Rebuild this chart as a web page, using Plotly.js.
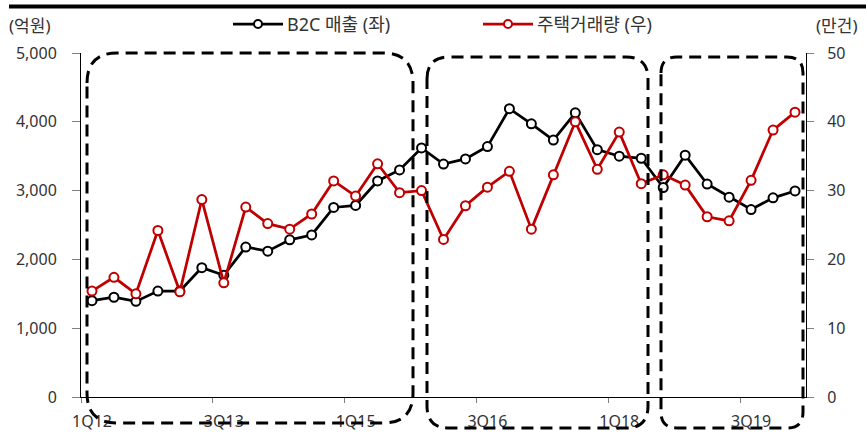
<!DOCTYPE html>
<html>
<head>
<meta charset="utf-8">
<script src="https://cdn.plot.ly/plotly-3.0.1.min.js"></script>
<style>html,body{margin:0;padding:0;background:#fff}#chart{width:866px;height:433px}</style>
</head>
<body>
<div id="chart"></div>
<script>
// ---- data ----
const quarters = [
  '1Q12','2Q12','3Q12','4Q12','1Q13','2Q13','3Q13','4Q13',
  '1Q14','2Q14','3Q14','4Q14','1Q15','2Q15','3Q15','4Q15',
  '1Q16','2Q16','3Q16','4Q16','1Q17','2Q17','3Q17','4Q17',
  '1Q18','2Q18','3Q18','4Q18','1Q19','2Q19','3Q19','4Q19','1Q20'
];
// B2C 매출 (억원, left axis)
const b2cSales = [
  1400, 1450, 1390, 1540, 1540, 1880, 1770, 2180,
  2120, 2285, 2355, 2755, 2785, 3140, 3300, 3620,
  3385, 3460, 3640, 4190, 3970, 3735, 4130, 3595,
  3500, 3470, 3045, 3515, 3095, 2905, 2725, 2895, 2995
];
// 주택거래량 (만건, right axis)
const housingTx = [
  15.4, 17.4, 15.0, 24.2, 15.3, 28.7, 16.6, 27.6,
  25.2, 24.4, 26.6, 31.4, 29.2, 33.9, 29.7, 30.0,
  22.9, 27.8, 30.5, 32.8, 24.4, 32.3, 40.0, 33.1,
  38.5, 31.0, 32.3, 30.8, 26.2, 25.6, 31.5, 38.8, 41.4
];
const seriesNames = ['B2C 매출 (좌)', '주택거래량 (우)'];
const seriesColors = ['#000000', '#C00000'];
const leftUnit = '(억원)';
const rightUnit = '(만건)';

// ---- layout geometry (pixels) ----
const W = 866, H = 433;
const M = {l: 81, r: 60, t: 53, b: 36};
const PW = W - M.l - M.r, PH = H - M.t - M.b;
const px = x => (x - M.l) / PW;
const py = y => (H - M.b - y) / PH;

function roundBox(x0, y0, x1, y1, r) {
  const X = v => px(v).toFixed(5), Y = v => py(v).toFixed(5);
  return 'M' + X(x0) + ',' + Y(y0 + r) +
    ' Q' + X(x0) + ',' + Y(y0) + ' ' + X(x0 + r) + ',' + Y(y0) +
    ' L' + X(x1 - r) + ',' + Y(y0) +
    ' Q' + X(x1) + ',' + Y(y0) + ' ' + X(x1) + ',' + Y(y0 + r) +
    ' L' + X(x1) + ',' + Y(y1 - r) +
    ' Q' + X(x1) + ',' + Y(y1) + ' ' + X(x1 - r) + ',' + Y(y1) +
    ' L' + X(x0 + r) + ',' + Y(y1) +
    ' Q' + X(x0) + ',' + Y(y1) + ' ' + X(x0) + ',' + Y(y1 - r) + ' Z';
}
const boxStyle = {type: 'path', xref: 'paper', yref: 'paper', layer: 'above',
  line: {color: '#000', width: 3, dash: '12px,7px'}, fillcolor: 'rgba(0,0,0,0)'};

const FONT = 'Noto Sans, Noto Sans CJK KR, sans-serif';
const TICKFONT = {family: FONT, size: 16, color: '#333'};
const LABELFONT = {family: FONT, size: 17, color: '#333'};
const LEGENDFONT = {family: FONT, size: 18, color: '#333'};

const traces = [
  {
    x: quarters, y: b2cSales, name: seriesNames[0], type: 'scatter', mode: 'lines+markers',
    yaxis: 'y',
    line: {color: seriesColors[0], width: 2.75},
    marker: {symbol: 'circle', size: 9, color: '#ffffff', line: {color: seriesColors[0], width: 2}}
  },
  {
    x: quarters, y: housingTx, name: seriesNames[1], type: 'scatter', mode: 'lines+markers',
    yaxis: 'y2',
    line: {color: seriesColors[1], width: 2.75},
    marker: {symbol: 'circle', size: 9, color: '#ffffff', line: {color: seriesColors[1], width: 2}}
  }
];

// legend drawn as line + marker shapes with text annotations
const legendItems = [{x: 233, name: seriesNames[0], color: seriesColors[0]},
                     {x: 483, name: seriesNames[1], color: seriesColors[1]}];
const legendY = 24;
const legendShapes = [], legendAnns = [];
legendItems.forEach(it => {
  legendShapes.push({type: 'line', xref: 'paper', yref: 'paper', x0: px(it.x), x1: px(it.x + 50),
    y0: py(legendY), y1: py(legendY), line: {color: it.color, width: 2.75}});
  legendShapes.push({type: 'circle', xref: 'paper', yref: 'paper',
    x0: px(it.x + 25 - 4), x1: px(it.x + 25 + 4), y0: py(legendY - 4), y1: py(legendY + 4),
    fillcolor: '#ffffff', line: {color: it.color, width: 2}});
  legendAnns.push({text: it.name, xref: 'paper', yref: 'paper', x: px(it.x + 52), y: py(legendY),
    xanchor: 'left', yanchor: 'middle', showarrow: false, font: LEGENDFONT});
});

const layout = {
  width: W, height: H,
  margin: M,
  paper_bgcolor: '#fff', plot_bgcolor: '#fff',
  font: {family: FONT, size: 16, color: '#333'},
  showlegend: false,
  xaxis: {
    type: 'category', categoryorder: 'array', categoryarray: quarters,
    range: [-0.5, quarters.length - 0.5],
    tickmode: 'linear', tick0: 0, dtick: 6, tickson: 'boundaries', tickangle: 0,
    ticks: 'outside', ticklen: 5, tickcolor: '#808080', tickwidth: 1,
    ticklabelstandoff: 10,
    showline: true, linecolor: '#000', linewidth: 1,
    showgrid: false, zeroline: false,
    tickfont: TICKFONT
  },
  yaxis: {
    range: [0, 5000], dtick: 1000, tickformat: ',d',
    ticks: 'outside', ticklen: 8, tickcolor: '#808080',
    ticklabelstandoff: 12,
    showline: true, linecolor: '#000', linewidth: 1,
    showgrid: false, zeroline: false,
    tickfont: TICKFONT
  },
  yaxis2: {
    overlaying: 'y', side: 'right',
    range: [0, 50], dtick: 10,
    ticks: 'outside', ticklen: 7, tickcolor: '#808080',
    ticklabelstandoff: 10,
    showline: true, linecolor: '#000', linewidth: 1,
    showgrid: false, zeroline: false,
    tickfont: TICKFONT
  },
  annotations: [
    {text: leftUnit, xref: 'paper', yref: 'paper', x: px(7), y: py(25), xanchor: 'left', yanchor: 'middle',
     showarrow: false, font: LABELFONT},
    {text: rightUnit, xref: 'paper', yref: 'paper', x: px(859), y: py(25), xanchor: 'right', yanchor: 'middle',
     showarrow: false, font: LABELFONT}
  ].concat(legendAnns),
  shapes: [
    {type: 'line', xref: 'paper', yref: 'paper', x0: px(9), x1: px(866), y0: py(6.5), y1: py(6.5),
     line: {color: '#000', width: 4}},
    Object.assign({path: roundBox(87, 53, 413, 423, 30)}, boxStyle),
    Object.assign({path: roundBox(427, 57, 648, 428, 22)}, boxStyle),
    Object.assign({path: roundBox(661, 57, 803, 428, 16)}, boxStyle)
  ].concat(legendShapes)
};

Plotly.newPlot('chart', traces, layout, {displayModeBar: false, staticPlot: true});
</script>
</body>
</html>
